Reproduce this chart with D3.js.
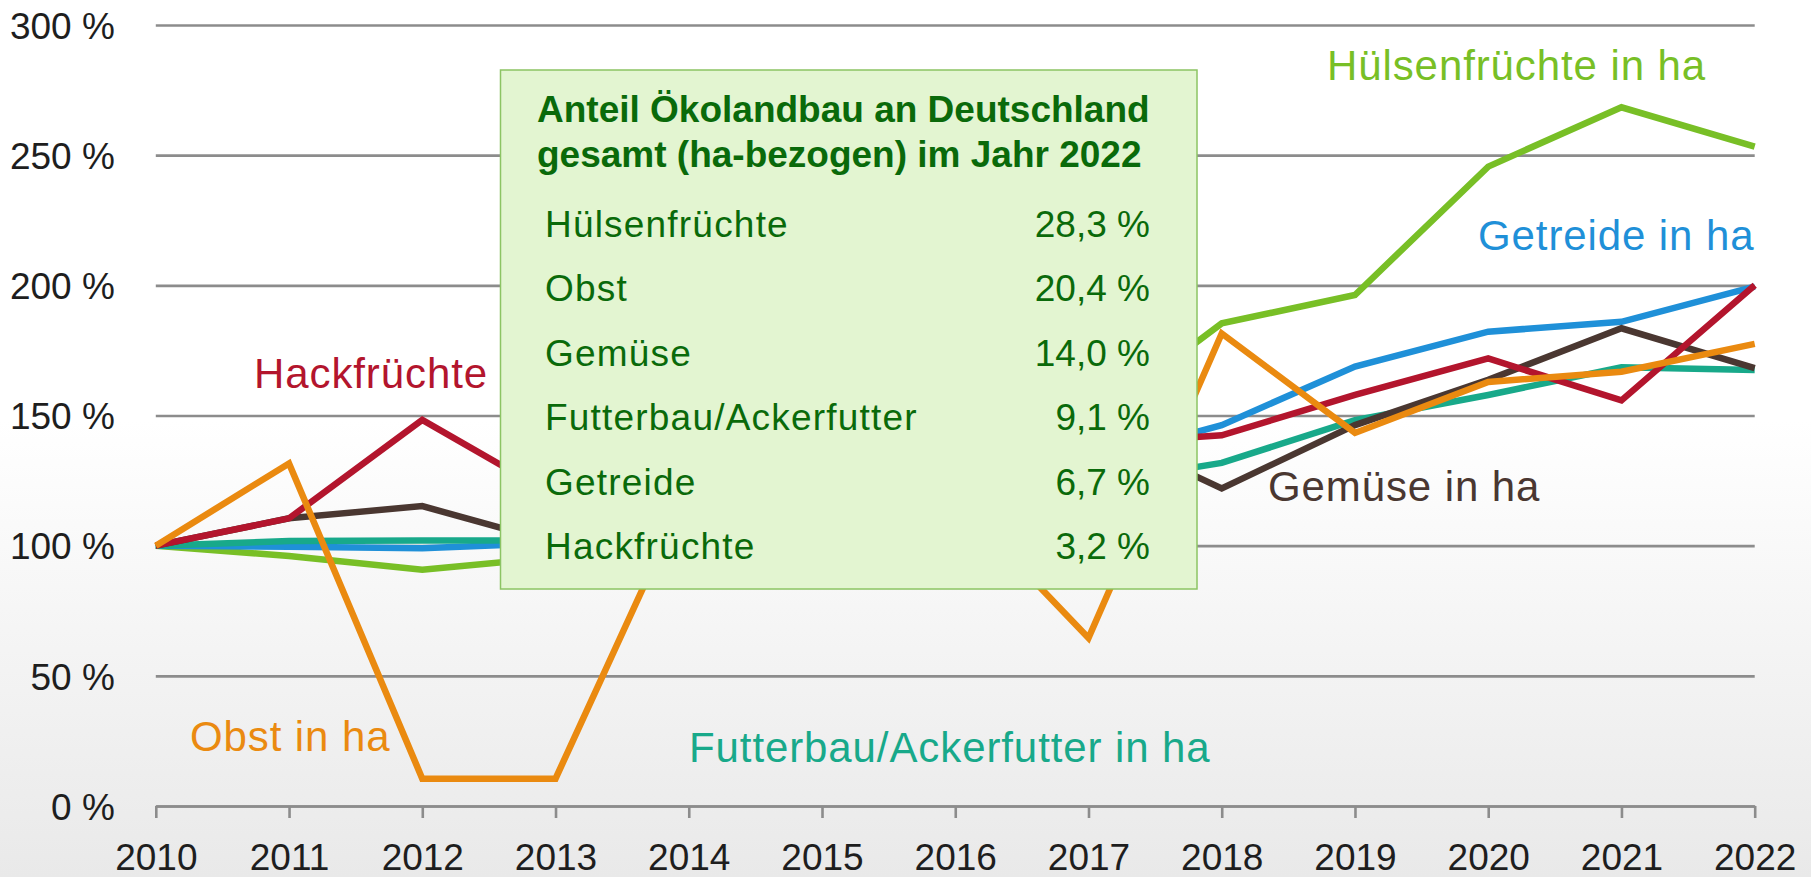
<!DOCTYPE html>
<html>
<head>
<meta charset="utf-8">
<script src="https://cdn.jsdelivr.net/npm/d3@7"></script>
<style>
  body { margin: 0; background: #fff; }
  text { font-family: "Liberation Sans", Arial, sans-serif; }
</style>
</head>
<body>
<script>
var w = 1811;
var h = 877;

// Index 2010 = 100 %
var years = [2010, 2011, 2012, 2013, 2014, 2015, 2016, 2017, 2018, 2019, 2020, 2021, 2022];
var huelsenfruechte = [100, 96, 90.8, 95.5, 100, 112, 130, 147, 185.4, 196.3, 245.6, 268.4, 253.3];
var getreide = [100, 99.6, 99, 101, 104, 110, 120, 132.5, 146.3, 168.8, 182.2, 186, 199.5];
var futterbau = [100, 101.8, 102, 102, 104, 108, 116, 123.5, 131.8, 148.2, 157.9, 168.5, 167.5];
var gemuese = [100, 110.5, 115.2, 101, 110, 118, 130, 146, 122, 146.3, 163.7, 183.5, 168.2];
var hackfruechte = [100, 110.5, 148.3, 119, 115, 120, 130, 139, 142.4, 157.9, 171.9, 155.8, 200];
var obst = [100, 131.6, 10.5, 10.5, 122, 117, 118, 64.5, 181.5, 143.3, 162.9, 166.8, 177.5];

var yTicks = [0, 50, 100, 150, 200, 250, 300];

// box: share of organic farming 2022
var boxTitle = ["Anteil Ökolandbau an Deutschland", "gesamt (ha-bezogen) im Jahr 2022"];
var shareLabels = ["Hülsenfrüchte", "Obst", "Gemüse", "Futterbau/Ackerfutter", "Getreide", "Hackfrüchte"];
var shareValues = ["28,3 %", "20,4 %", "14,0 %", "9,1 %", "6,7 %", "3,2 %"];

var series = [
  { name: "Hülsenfrüchte in ha", values: huelsenfruechte, color: "#78bf26", lx: 1327, ly: 80 },
  { name: "Getreide in ha", values: getreide, color: "#1f90d8", lx: 1478, ly: 250 },
  { name: "Futterbau/Ackerfutter in ha", values: futterbau, color: "#18a98a", lx: 689, ly: 762 },
  { name: "Gemüse in ha", values: gemuese, color: "#4a3731", lx: 1268, ly: 501 },
  { name: "Hackfrüchte", values: hackfruechte, color: "#b3152d", lx: 254, ly: 388 },
  { name: "Obst in ha", values: obst, color: "#ea8a10", lx: 190, ly: 751 }
];

var x = d3.scaleLinear()
  .domain([2010, 2022])
  .range([155.8, 1754.7]);

var y = d3.scaleLinear()
  .domain([0, 300])
  .range([806, 25]);

var svg = d3.select("body").append("svg")
  .attr("width", w)
  .attr("height", h);

var grad = svg.append("defs").append("linearGradient")
  .attr("id", "bg")
  .attr("x1", 0).attr("y1", 0).attr("x2", 0).attr("y2", 1);
grad.append("stop").attr("offset", "0%").attr("stop-color", "#ffffff");
grad.append("stop").attr("offset", "48%").attr("stop-color", "#ffffff");
grad.append("stop").attr("offset", "100%").attr("stop-color", "#e9e9e9");

svg.append("rect")
  .attr("width", w)
  .attr("height", h)
  .attr("fill", "url(#bg)");

// y axis with gridlines
var yAxis = svg.append("g")
  .attr("transform", "translate(" + x(2010) + ",0)")
  .call(d3.axisLeft(y)
    .tickValues(yTicks)
    .tickSize(-(x(2022) - x(2010)))
    .tickPadding(41)
    .tickFormat(function (d) { return d + " %"; }));
yAxis.select(".domain").remove();
yAxis.selectAll(".tick line")
  .attr("stroke", "#8c8c8c")
  .attr("stroke-width", 2.6);
yAxis.selectAll(".tick text")
  .attr("dy", "0.36em")
  .attr("fill", "#1e1e1e")
  .style("font-size", "37px");

// x axis
var xAxis = svg.append("g")
  .attr("transform", "translate(0," + y(0) + ")")
  .call(d3.axisBottom(x)
    .tickValues(years)
    .tickSize(12)
    .tickSizeOuter(0)
    .tickFormat(d3.format("d")));
xAxis.select(".domain")
  .attr("stroke", "#8c8c8c")
  .attr("stroke-width", 2.6);
xAxis.selectAll(".tick line")
  .attr("stroke", "#8c8c8c")
  .attr("stroke-width", 2.6);
xAxis.selectAll(".tick text")
  .attr("y", 64)
  .attr("dy", 0)
  .attr("fill", "#1e1e1e")
  .style("font-size", "37px");

var line = d3.line()
  .x(function (d, i) { return x(years[i]); })
  .y(function (d) { return y(d); });

var chart = svg.append("g");
chart.selectAll(".series")
  .data(series)
  .enter()
  .append("path")
  .classed("series", true)
  .attr("d", function (d) { return line(d.values); })
  .attr("fill", "none")
  .attr("stroke", function (d) { return d.color; })
  .attr("stroke-width", 6.5)
  .attr("stroke-linejoin", "miter");

chart.selectAll(".label")
  .data(series)
  .enter()
  .append("text")
  .classed("label", true)
  .attr("x", function (d) { return d.lx; })
  .attr("y", function (d) { return d.ly; })
  .attr("fill", function (d) { return d.color; })
  .style("font-size", "42px")
  .style("letter-spacing", "0.9px")
  .text(function (d) { return d.name; });

// info box
var box = svg.append("g");
box.append("rect")
  .attr("x", 500.5)
  .attr("y", 70)
  .attr("width", 696.5)
  .attr("height", 519)
  .attr("fill", "#e3f5d1")
  .attr("stroke", "#8cc463")
  .attr("stroke-width", 1.5);

box.selectAll(".title")
  .data(boxTitle)
  .enter()
  .append("text")
  .attr("x", 537)
  .attr("y", function (d, i) { return 122 + i * 45; })
  .attr("fill", "#0a6a0a")
  .style("font-size", "37px")
  .style("font-weight", "bold")
  .text(function (d) { return d; });

var row = d3.scaleLinear()
  .domain([0, shareLabels.length - 1])
  .range([237, 559]);

box.selectAll(".rowlabel")
  .data(shareLabels)
  .enter()
  .append("text")
  .attr("x", 545)
  .attr("y", function (d, i) { return row(i); })
  .attr("fill", "#0a6a0a")
  .style("font-size", "37px")
  .style("letter-spacing", "1.2px")
  .text(function (d) { return d; });

box.selectAll(".rowvalue")
  .data(shareValues)
  .enter()
  .append("text")
  .attr("x", 1150)
  .attr("y", function (d, i) { return row(i); })
  .attr("text-anchor", "end")
  .attr("fill", "#0a6a0a")
  .style("font-size", "37px")
  .text(function (d) { return d; });
</script>
</body>
</html>
